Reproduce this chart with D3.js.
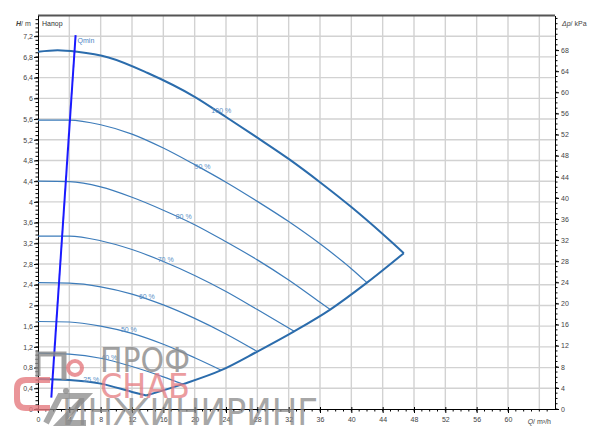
<!DOCTYPE html>
<html>
<head>
<meta charset="utf-8">
<script src="https://cdn.jsdelivr.net/npm/d3@7"></script>
<style>
  body { margin: 0; background: #fff; }
  text { font-family: "Liberation Sans", Arial, sans-serif; }
</style>
</head>
<body>
<div id="chart"></div>
<script>
// speed curves (Q in m3/h, H in m)
const q100 = [0, 2.5, 5, 9, 14, 20, 24, 28, 32, 36, 40, 44, 46.7];
const h100 = [6.9, 6.93, 6.9, 6.79, 6.49, 6.03, 5.64, 5.24, 4.83, 4.38, 3.9, 3.38, 3.01];
const q90 = [0, 4, 8, 12, 16, 20, 24, 28, 32, 36, 40, 42];
const h90 = [5.58, 5.58, 5.49, 5.31, 5.04, 4.72, 4.38, 4.01, 3.62, 3.19, 2.71, 2.44];
const q80 = [0, 4, 8, 12, 16, 20, 24, 28, 32, 36, 37.3];
const h80 = [4.4, 4.39, 4.29, 4.09, 3.84, 3.56, 3.23, 2.88, 2.49, 2.06, 1.92];
const q70 = [0, 4, 8, 12, 16, 20, 24, 28, 32.7];
const h70 = [3.34, 3.34, 3.25, 3.08, 2.85, 2.58, 2.27, 1.92, 1.50];
const q60 = [0, 4, 8, 12, 16, 20, 24, 28];
const h60 = [2.44, 2.43, 2.36, 2.22, 2.01, 1.75, 1.45, 1.11];
const q50 = [0, 4, 8, 12, 16, 20, 23.4];
const h50 = [1.69, 1.68, 1.60, 1.46, 1.25, 0.99, 0.75];
const q40 = [0, 4, 8, 12, 16, 18.5];
const h40 = [1.08, 1.06, 0.98, 0.82, 0.62, 0.48];
const q25 = [0, 4, 8, 12, 13.8];
const h25 = [0.58, 0.56, 0.49, 0.33, 0.26];

// lower limit line through the curve ends
const qLimit = [13.8, 18.5, 23.4, 28.0, 32.7, 37.3, 42.0, 46.7];
const hLimit = [0.26, 0.48, 0.75, 1.11, 1.50, 1.92, 2.44, 3.01];

// Qmin line
const qMin = [1.7, 4.8];
const hMin = [0.22, 7.22];

const curveNames = ["100 %", "90 %", "80 %", "70 %", "60 %", "50 %", "40 %", "25 %"];
const labelQ = [23.4, 21.0, 18.6, 16.3, 13.9, 11.6, 9.1, 6.8];

const hTicks = d3.range(0, 7.21, 0.4);
const pTicks = d3.range(0, 68.1, 4);
const qTicks = d3.range(0, 60.1, 4);

const curves = [[q100, h100], [q90, h90], [q80, h80], [q70, h70], [q60, h60], [q50, h50], [q40, h40], [q25, h25]];

let margin = {top: 15.5, right: 45, bottom: 34, left: 38},
    width = 600 - margin.left - margin.right,
    height = 443 - margin.top - margin.bottom;

const kPaPerM = 9.81;
const hMax = 7.6, qMax = 66;

let svg = d3.select("#chart")
    .append("svg")
    .attr("width", 600)
    .attr("height", 443)
    .append("g")
    .attr("transform", "translate(" + margin.left + "," + margin.top + ")");

let x = d3.scaleLinear().domain([0, qMax]).range([0, width]);
let y = d3.scaleLinear().domain([0, hMax]).range([height, 0]);
let yp = d3.scaleLinear().domain([0, hMax * kPaPerM]).range([height, 0]);

const fmt = d3.formatLocale({decimal: ",", thousands: " ", grouping: [3], currency: ["", ""]}).format(".2~f");

// grid
svg.append("g").selectAll("line")
    .data(d3.range(4, 64.1, 4))
    .enter().append("line")
    .attr("x1", d => x(d)).attr("x2", d => x(d))
    .attr("y1", 0).attr("y2", height)
    .style("stroke", "#d2d2d2").style("stroke-width", 1.4);

svg.append("g").selectAll("line")
    .data(hTicks.filter(d => d > 0))
    .enter().append("line")
    .attr("x1", 0).attr("x2", width)
    .attr("y1", d => y(d)).attr("y2", d => y(d))
    .style("stroke", "#d2d2d2").style("stroke-width", 1.4);

// top border
svg.append("line")
    .attr("x1", 0).attr("x2", width).attr("y1", 0).attr("y2", 0)
    .style("stroke", "#555").style("stroke-width", 2);

// left axis
let left = svg.append("g")
    .call(d3.axisLeft(y).tickValues(hTicks).tickFormat(fmt).tickSize(4).tickSizeOuter(0));
left.append("g").selectAll("line")
    .data(d3.range(0, hMax, 0.08))
    .enter().append("line")
    .attr("x1", -2.5).attr("x2", 0)
    .attr("y1", d => y(d)).attr("y2", d => y(d))
    .style("stroke", "#000");

// right axis
let right = svg.append("g")
    .attr("transform", "translate(" + width + ",0)")
    .call(d3.axisRight(yp).tickValues(pTicks).tickSize(4).tickSizeOuter(0));
right.append("g").selectAll("line")
    .data(d3.range(0, hMax * kPaPerM, 1))
    .enter().append("line")
    .attr("x1", 0).attr("x2", 2.5)
    .attr("y1", d => yp(d)).attr("y2", d => yp(d))
    .style("stroke", "#000");

// bottom axis
let bottom = svg.append("g")
    .attr("transform", "translate(0," + height + ")")
    .call(d3.axisBottom(x).tickValues(qTicks).tickSize(4).tickSizeOuter(0));
bottom.selectAll(".tick line").attr("y1", -2);
bottom.append("g").selectAll("line")
    .data(d3.range(0, qMax, 1))
    .enter().append("line")
    .attr("x1", d => x(d)).attr("x2", d => x(d))
    .attr("y1", 0).attr("y2", 2.5)
    .style("stroke", "#000");

svg.selectAll(".domain").style("stroke", "#000");
svg.selectAll(".tick text").style("font-size", "7px").style("fill", "#444")
    .style("font-family", "'Liberation Sans', Arial, sans-serif");
left.selectAll(".tick text").attr("x", -5);
right.selectAll(".tick text").attr("x", 6);
bottom.selectAll(".tick text").attr("y", 8);

// axis titles
svg.append("text").attr("x", -22).attr("y", 10)
    .style("font-size", "7px").style("fill", "#444")
    .html('<tspan font-weight="bold" font-style="italic">H</tspan>/ m');
svg.append("text").attr("x", 4).attr("y", 10)
    .style("font-size", "7px").style("fill", "#333").text("Напор");
svg.append("text").attr("x", width + 7).attr("y", 10)
    .style("font-size", "7px").style("fill", "#444")
    .html('<tspan font-style="italic">Δp</tspan>/ kPa');
svg.append("text").attr("x", x(64)).attr("y", height + 15)
    .attr("text-anchor", "middle")
    .style("font-size", "7px").style("fill", "#444")
    .html('<tspan font-style="italic">Q</tspan>/ m³/h');

// curves
let line = d3.line()
    .x(d => x(d[0]))
    .y(d => y(d[1]))
    .curve(d3.curveMonotoneX);

curves.forEach(function (c, i) {
    let pts = c[0].map((q, j) => [q, c[1][j]]);
    let thick = (i === 0 || i === curves.length - 1);
    svg.append("path")
        .datum(pts)
        .attr("d", line)
        .style("fill", "none")
        .style("stroke", thick ? "#2b6cac" : "#3d7cba")
        .style("stroke-width", thick ? 2 : 1.2);
});

svg.append("path")
    .datum(qLimit.map((q, j) => [q, hLimit[j]]))
    .attr("d", line)
    .style("fill", "none")
    .style("stroke", "#2b6cac")
    .style("stroke-width", 2);

// curve labels sit on the curve
curves.forEach(function (c, i) {
    let hAt = d3.scaleLinear().domain(c[0]).range(c[1])(labelQ[i]);
    svg.append("text")
        .attr("x", x(labelQ[i]))
        .attr("y", y(hAt) - 0.5)
        .attr("text-anchor", "middle")
        .style("font-size", "7px")
        .style("fill", "#5a8fc6")
        .text(curveNames[i]);
});

// Qmin
svg.append("line")
    .attr("x1", x(qMin[0])).attr("y1", y(hMin[0]))
    .attr("x2", x(qMin[1])).attr("y2", y(hMin[1]))
    .style("stroke", "#1a1aff").style("stroke-width", 2);
svg.append("text")
    .attr("x", x(qMin[1]) + 2).attr("y", y(hMin[1]) + 8)
    .style("font-size", "7px").style("fill", "#4b84c4").text("Qmin");

// watermark
let wm = d3.select("svg").append("g").style("pointer-events", "none");
wm.append("path")
    .attr("d", "M50,380 H26 Q17,380 17,389 V399 Q17,408 26,408 H50")
    .style("fill", "none").style("stroke", "#e57b7f").style("stroke-width", 6).style("opacity", 0.8);
wm.append("path")
    .attr("d", "M38,376 V354 H64 V380")
    .style("fill", "none").style("stroke", "#8a8a8a").style("stroke-width", 5).style("opacity", 0.8);
wm.append("circle").attr("cx", 75).attr("cy", 368).attr("r", 7)
    .style("fill", "none").style("stroke", "#e57b7f").style("stroke-width", 4).style("opacity", 0.8);
wm.append("circle").attr("cx", 66).attr("cy", 391).attr("r", 3)
    .style("fill", "#8a8a8a").style("opacity", 0.8);
wm.append("path")
    .attr("d", "M46,423 L60,396 H86 L60,423 H86")
    .style("fill", "none").style("stroke", "#8a8a8a").style("stroke-width", 6).style("opacity", 0.75);
wm.append("text").attr("x", 100).attr("y", 372)
    .attr("textLength", 90).attr("lengthAdjust", "spacingAndGlyphs")
    .style("font-family", "'DejaVu Sans', sans-serif").style("font-size", "33px")
    .style("fill", "#8a8a8a").style("opacity", 0.8).text("ПРОФ");
wm.append("text").attr("x", 100).attr("y", 398)
    .attr("textLength", 90).attr("lengthAdjust", "spacingAndGlyphs")
    .style("font-family", "'DejaVu Sans', sans-serif").style("font-size", "33px")
    .style("fill", "#e57b7f").style("opacity", 0.75).text("СНАБ");
wm.append("text").attr("x", 62).attr("y", 425)
    .attr("textLength", 256).attr("lengthAdjust", "spacingAndGlyphs")
    .style("font-family", "'DejaVu Sans', sans-serif").style("font-size", "37px")
    .style("fill", "#8a8a8a").style("opacity", 0.75).text("ИНЖИНИРИНГ");
</script>
</body>
</html>
